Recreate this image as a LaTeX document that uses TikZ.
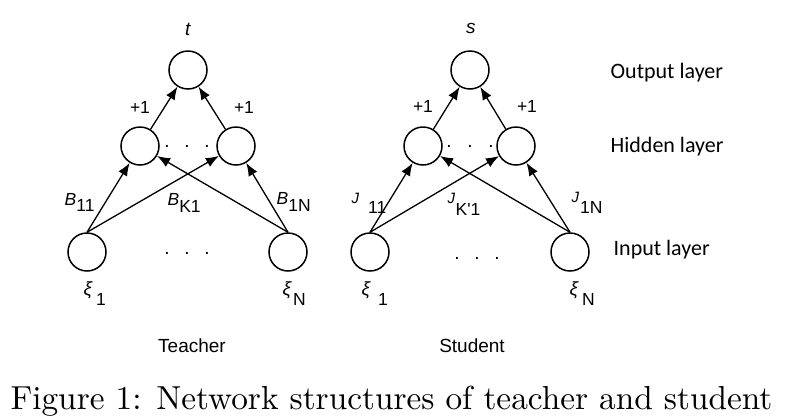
\documentclass[tikz,border=0pt]{standalone}
\usepackage{fontspec}
\setsansfont{Liberation Sans}
\newfontfamily\layerfont{Carlito}
\newfontfamily\capfont{lmroman10-regular}[Extension=.otf]
\usetikzlibrary{arrows.meta,positioning}

\tikzset{
  unit/.style={circle,draw,line width=1.5pt,minimum size=38pt,inner sep=0pt},
  wlab/.style={font=\sffamily\fontsize{17.5}{19}\selectfont,inner sep=0pt,anchor=base west},
  plab/.style={font=\sffamily\fontsize{17.5}{19}\selectfont,inner sep=0pt},
  layer/.style={font=\layerfont\fontsize{22}{24}\selectfont,inner sep=0pt,anchor=base west},
  netname/.style={font=\sffamily\fontsize{19}{21}\selectfont,inner sep=0pt,anchor=base},
  dots/.style={font=\sffamily\fontsize{19}{20}\selectfont,inner sep=0pt,anchor=base},
}
\newcommand{\dn}[2]{\raisebox{-#1}{#2}}
\newcommand{\smallj}{{\fontsize{15}{17}\selectfont\itshape J}}
\newcommand{\xiletter}{{\fontsize{19}{21}\selectfont\itshape ξ}}

\begin{document}
\begin{tikzpicture}[x=1pt,y=-1pt,on grid,line width=1.3pt,>={Latex[length=13pt,width=10pt]}]
	\useasboundingbox (0,0) rectangle (790,416);

	% teacher
	\node[unit] (t_o) at (188,70) {};
	\node[unit] (t_h1) [below left=76pt and 48pt of t_o] {};
	\node[unit] (t_hK) [below right=76pt and 48pt of t_o] {};
	\node[unit] (t_x1) [below left=106pt and 53pt of t_h1] {};
	\node[unit] (t_xN) [below right=106pt and 52pt of t_hK] {};
	\path[->]
	(t_x1.north) edge (t_h1)
	             edge (t_hK)
	(t_xN.north) edge (t_h1)
	             edge (t_hK)
	(t_h1) edge (t_o)
	(t_hK) edge (t_o);
	\node[wlab,font=\sffamily\itshape\fontsize{19}{21}\selectfont] (t_lab) at (184.5,35) {t};
	\node[plab] (t_p1) at (140,107) {+1};
	\node[plab] (t_pK) at (244,107) {+1};
	\node[dots] (t_hdots) at (187,147) {.\hspace{14.7pt}.\hspace{14.7pt}.};
	\node[dots] (t_xdots) at (187,254) {.\hspace{14.7pt}.\hspace{14.7pt}.};
	\node[wlab] (t_b11) at (64,205) {\textit{B}\dn{6pt}{11}};
	\node[wlab] (t_bK1) at (167,205) {\textit{B}\dn{7pt}{K1}};
	\node[wlab] (t_b1N) at (276,204) {\textit{B}\dn{7pt}{1N}};
	\node[wlab] (t_xi1) at (83,295) {\xiletter\hspace{4pt}\dn{10pt}{1}};
	\node[wlab] (t_xiN) at (282,295) {\xiletter\hspace{2pt}\dn{10pt}{N}};
	\node[netname] (t_name) at (192,352) {Teacher};

	% student
	\node[unit] (s_o) at (470,70) {};
	\node[unit] (s_h1) [below left=76pt and 47pt of s_o] {};
	\node[unit] (s_hK) [below right=76pt and 46pt of s_o] {};
	\node[unit] (s_x1) [below left=106pt and 53pt of s_h1] {};
	\node[unit] (s_xN) [below right=106pt and 54pt of s_hK] {};
	\path[->]
	(s_x1.north) edge (s_h1)
	             edge (s_hK)
	(s_xN.north) edge (s_h1)
	             edge (s_hK)
	(s_h1) edge (s_o)
	(s_hK) edge (s_o);
	\node[wlab,font=\sffamily\itshape\fontsize{19}{21}\selectfont] (s_lab) at (465.5,33.5) {s};
	\node[plab] (s_p1) at (423,106) {+1};
	\node[plab] (s_pK) at (527,106) {+1};
	\node[dots] (s_hdots) at (470,147) {.\hspace{15.7pt}.\hspace{15.7pt}.};
	\node[dots] (s_xdots) at (477,259) {.\hspace{14.7pt}.\hspace{14.7pt}.};
	\node[wlab] (s_j11) at (351,203) {\smallj\hspace{9pt}\dn{10pt}{11}};
	\node[wlab] (s_jK1) at (447,203) {\smallj\hspace{0.5pt}\dn{12pt}{K\textquotesingle 1}};
	\node[wlab] (s_j1N) at (571,202) {\smallj\hspace{1pt}\dn{11pt}{1N}};
	\node[wlab] (s_xi1) at (361,295) {\xiletter\hspace{8pt}\dn{10pt}{1}};
	\node[wlab] (s_xiN) at (569,295) {\xiletter\hspace{4pt}\dn{10pt}{N}};
	\node[netname] (s_name) at (472,352) {Student};

	% layers
	\node[layer] (out_layer) at (610,78) {Output layer};
	\node[layer] (hid_layer) at (610,152) {Hidden layer};
	\node[layer] (in_layer) at (613,255) {Input layer};

	\node[font=\capfont\fontsize{33.3}{36}\selectfont,inner sep=0pt,anchor=base] (caption) at (391.5,409)
	{Figure 1: Network structures of teacher and student};
\end{tikzpicture}
\end{document}
